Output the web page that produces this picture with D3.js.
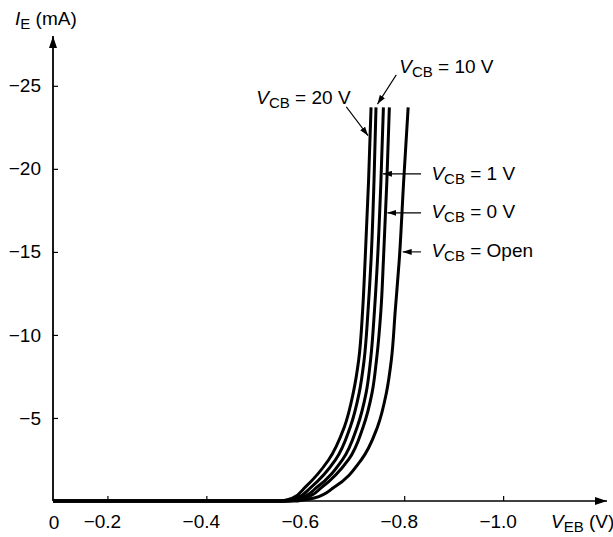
<!DOCTYPE html>
<html>
<head>
<meta charset="utf-8">
<script src="https://cdn.jsdelivr.net/npm/d3@7"></script>
<style>
  body { margin: 0; background: #fff; }
  svg { display: block; font-family: "Liberation Sans", Arial, sans-serif; }
</style>
</head>
<body>
<div class="viz"></div>
<script>
// emitter current levels (mA) shared by every V_CB curve
var currents = [0, 0, -0.18, -0.84, -2.47, -4.46, -6.51, -8.49, -11.5, -14.5, -19.3, -23.7];

// V_EB (V) read at each current level; first entry is the axis origin
var vcb20   = [-0.09, -0.552, -0.574, -0.600, -0.647, -0.679, -0.697, -0.708, -0.716, -0.721, -0.728, -0.733];
var vcb10   = [-0.09, -0.558, -0.582, -0.612, -0.661, -0.691, -0.709, -0.719, -0.727, -0.733, -0.739, -0.743];
var vcb1    = [-0.09, -0.564, -0.590, -0.624, -0.675, -0.705, -0.723, -0.732, -0.740, -0.746, -0.753, -0.758];
var vcb0    = [-0.09, -0.570, -0.600, -0.634, -0.687, -0.717, -0.735, -0.744, -0.753, -0.758, -0.765, -0.770];
var vcbOpen = [-0.09, -0.584, -0.618, -0.659, -0.713, -0.746, -0.764, -0.774, -0.782, -0.790, -0.799, -0.808];

var seriesNames = ["20 V", "10 V", "1 V", "0 V", "Open"];
var seriesV = [vcb20, vcb10, vcb1, vcb0, vcbOpen];

var xTicks = [-0.2, -0.4, -0.6, -0.8, -1.0];
var yTicks = [-5, -10, -15, -20, -25];

// callouts: text position, arrow tail, arrow tip (V, mA)
var labelPos = [[-0.501, -23.9], [-0.790, -25.78], [-0.855, -19.34], [-0.855, -17.05], [-0.855, -14.7]];
var arrowFrom = [[-0.683, -23.73], [-0.784, -25.66], [-0.834, -19.7], [-0.834, -17.35], [-0.834, -15.0]];
var arrowTo = [[-0.727, -22.0], [-0.746, -23.9], [-0.757, -19.7], [-0.766, -17.35], [-0.797, -15.0]];

var width = 613, height = 537;

var x = d3.scaleLinear().domain([-0.09, -1.21]).range([53, 607]);
var y = d3.scaleLinear().domain([0, -28]).range([501, 36]);

var svg = d3.select(".viz").append("svg")
    .attr("width", width)
    .attr("height", height);

var defs = svg.append("defs");
defs.append("marker")
    .attr("id", "axisHead")
    .attr("viewBox", "0 0 12 8")
    .attr("refX", 12).attr("refY", 4)
    .attr("markerWidth", 12).attr("markerHeight", 8)
    .attr("markerUnits", "userSpaceOnUse")
    .attr("orient", "auto")
  .append("path")
    .attr("d", "M0,0L12,4L0,8Z")
    .attr("fill", "#000");
defs.append("marker")
    .attr("id", "calloutHead")
    .attr("viewBox", "0 0 9 6")
    .attr("refX", 9).attr("refY", 3)
    .attr("markerWidth", 9).attr("markerHeight", 6)
    .attr("markerUnits", "userSpaceOnUse")
    .attr("orient", "auto")
  .append("path")
    .attr("d", "M0,0L9,3L0,6Z")
    .attr("fill", "#000");

// axes
svg.append("g")
    .attr("transform", "translate(0," + y(0) + ")")
    .call(d3.axisBottom(x).tickValues(xTicks).tickSize(-5).tickPadding(14).tickFormat(d3.format(".1f")))
    .call(function(g) {
        g.select(".domain").remove();
        g.selectAll("line").attr("stroke-width", 1.2);
        g.selectAll("text")
            .attr("font-size", 19)
            .attr("font-family", "Liberation Sans, Arial, sans-serif")
            .attr("fill", "#000")
            .attr("dx", -5.5);
    });

svg.append("g")
    .attr("transform", "translate(" + x(-0.09) + ",0)")
    .call(d3.axisLeft(y).tickValues(yTicks).tickSize(-5).tickPadding(12))
    .call(function(g) {
        g.select(".domain").remove();
        g.selectAll("line").attr("stroke-width", 1.2);
        g.selectAll("text")
            .attr("font-size", 19)
            .attr("font-family", "Liberation Sans, Arial, sans-serif")
            .attr("fill", "#000");
    });

svg.append("line")
    .attr("x1", x(-0.09)).attr("y1", y(0))
    .attr("x2", x(-1.21)).attr("y2", y(0))
    .attr("stroke", "#000").attr("stroke-width", 1.6)
    .attr("marker-end", "url(#axisHead)");

svg.append("line")
    .attr("x1", x(-0.09)).attr("y1", y(0))
    .attr("x2", x(-0.09)).attr("y2", y(-28))
    .attr("stroke", "#000").attr("stroke-width", 1.8)
    .attr("marker-end", "url(#axisHead)");

// origin label
svg.append("text")
    .attr("x", x(-0.09) + 1).attr("y", 529)
    .attr("text-anchor", "middle")
    .attr("font-size", 19)
    .text("0");

// axis titles
var xTitle = svg.append("text")
    .attr("x", 551).attr("y", 528)
    .attr("font-size", 19);
xTitle.append("tspan").attr("font-style", "italic").text("V");
xTitle.append("tspan").attr("font-size", 15).attr("dy", 4).text("EB");
xTitle.append("tspan").attr("dy", -4).text(" (V)");

var yTitle = svg.append("text")
    .attr("x", 15).attr("y", 25)
    .attr("font-size", 19);
yTitle.append("tspan").attr("font-style", "italic").text("I");
yTitle.append("tspan").attr("font-size", 15).attr("dy", 4).text("E");
yTitle.append("tspan").attr("dy", -4).text(" (mA)");

// characteristic curves: flat run along the axis, then the rising part
// interpolated monotone in current
var rise = d3.line()
    .x(function(d) { return x(d[0]); })
    .y(function(d) { return y(d[1]); })
    .curve(d3.curveMonotoneY);

seriesV.forEach(function(vs) {
    var pts = vs.map(function(v, i) { return [v, currents[i]]; });
    var d = "M" + x(pts[0][0]) + "," + y(pts[0][1]) + "L" + rise(pts.slice(1)).slice(1);
    svg.append("path")
        .attr("d", d)
        .attr("fill", "none")
        .attr("stroke", "#000")
        .attr("stroke-width", 3);
});

// callouts
seriesNames.forEach(function(name, i) {
    svg.append("line")
        .attr("x1", x(arrowFrom[i][0])).attr("y1", y(arrowFrom[i][1]))
        .attr("x2", x(arrowTo[i][0])).attr("y2", y(arrowTo[i][1]))
        .attr("stroke", "#000").attr("stroke-width", 1.1)
        .attr("marker-end", "url(#calloutHead)");

    var t = svg.append("text")
        .attr("x", x(labelPos[i][0])).attr("y", y(labelPos[i][1]))
        .attr("font-size", 19);
    t.append("tspan").attr("font-style", "italic").text("V");
    t.append("tspan").attr("font-size", 15).attr("dy", 4).text("CB");
    t.append("tspan").attr("dy", -4).text(" = " + name);
});
</script>
</body>
</html>
